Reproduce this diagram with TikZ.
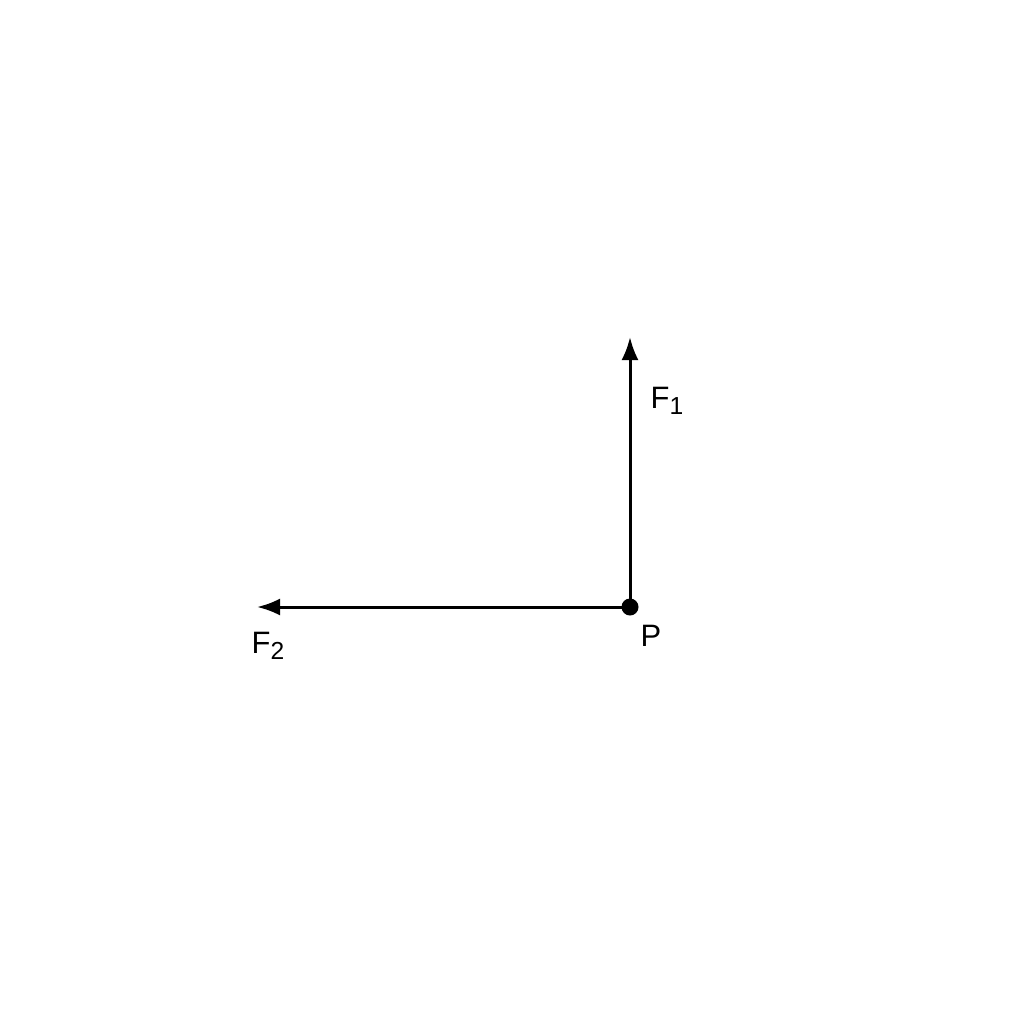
\documentclass[tikz,border=0pt]{standalone}
\usepackage{fontspec}
\setmainfont{Liberation Sans}
\usetikzlibrary{arrows.meta}
\newcommand{\sbs}[1]{\raisebox{-0.4ex}{\fontsize{7}{8}\selectfont #1}}
\begin{document}
\begin{tikzpicture}[x=0.01cm,y=-0.01cm,
  force/.style={line width=0.85pt,-{Latex[length=0.23cm,width=0.17cm]}},
  lbl/.style={inner sep=0pt,font=\fontsize{8.8}{10}\selectfont}]
\useasboundingbox (0,0) rectangle (1024,1024);
\fill[white] (0,0) rectangle (1024,1024);
\coordinate (P) at (630,607);
\coordinate (f1) at (630,337);
\coordinate (f2) at (257,607);
\draw[force] (P) -- (f1);
\draw[force] (P) -- (f2);
\fill (P) circle[radius=0.085cm];
\node[lbl] (l1) at (667,401) {F\sbs{1}};
\node[lbl] (l2) at (268,646) {F\sbs{2}};
\node[lbl] (lP) at (651,636) {P};
\end{tikzpicture}
\end{document}
